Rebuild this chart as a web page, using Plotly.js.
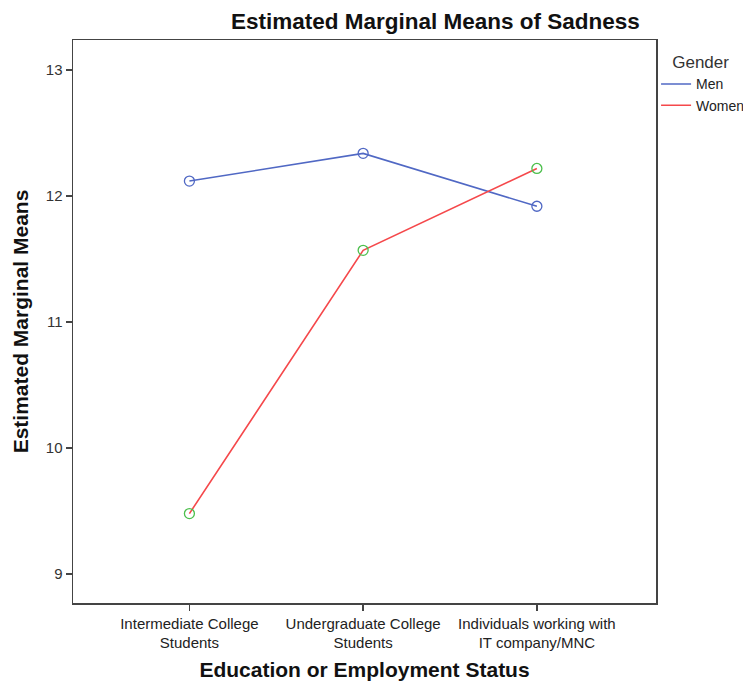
<!DOCTYPE html>
<html>
<head>
<script src="https://cdn.plot.ly/plotly-3.0.1.min.js"></script>
<style>html,body{margin:0;padding:0;background:#fff;}</style>
</head>
<body>
<div id="chart" style="width:743px;height:681px;"></div>
<script>
const categories = ["Intermediate College<br>Students", "Undergraduate College<br>Students", "Individuals working with<br>IT company/MNC"];
const menValues = [12.12, 12.34, 11.92];
const womenValues = [9.48, 11.57, 12.22];
const yTicks = [9, 10, 11, 12, 13];

const idx = categories.map((c, i) => i);
const traces = [
  {x: idx, y: menValues, name: "Men", type: "scatter", mode: "lines",
   line: {color: "#5068c4", width: 1.6}},
  {x: idx, y: womenValues, name: "Women", type: "scatter", mode: "lines",
   line: {color: "#f5484b", width: 1.6}},
  {x: idx, y: menValues, type: "scatter", mode: "markers", showlegend: false,
   marker: {symbol: "circle-open", size: 10, color: "#5068c4", line: {width: 1.3}}},
  {x: idx, y: womenValues, type: "scatter", mode: "markers", showlegend: false,
   marker: {symbol: "circle-open", size: 10, color: "#4cbf4c", line: {width: 1.3}}}
];

const layout = {
  width: 743, height: 681,
  margin: {l: 73, r: 83, t: 40, b: 78},
  paper_bgcolor: "#fff", plot_bgcolor: "#fff",
  font: {family: "Liberation Sans, Arial, sans-serif", color: "#222", size: 12},
  title: {text: "<b>Estimated Marginal Means of Sadness</b>", font: {size: 22.5, color: "#111"},
          x: 0.586, xref: "container", xanchor: "center", y: 0.969, yref: "container", yanchor: "middle"},
  xaxis: {
    range: [-0.67, 2.686], tickmode: "array", tickvals: idx, ticktext: categories,
    showgrid: false, zeroline: false, showline: true, mirror: true,
    linecolor: "#444", linewidth: 1.5, ticks: "outside", ticklen: 6, tickcolor: "#444", tickwidth: 1.5,
    tickfont: {size: 15, color: "#222"},
    title: {text: "<b>Education or Employment Status</b>", font: {size: 21, color: "#111"}, standoff: 12}
  },
  yaxis: {
    range: [8.77, 13.24], tickmode: "array", tickvals: yTicks,
    showgrid: false, zeroline: false, showline: true, mirror: true,
    linecolor: "#444", linewidth: 1.5, ticks: "outside", ticklen: 6, tickcolor: "#444", tickwidth: 1.5,
    tickfont: {size: 15, color: "#333"},
    title: {text: "<b>Estimated Marginal Means</b>", font: {size: 21, color: "#111"}, standoff: 11}
  },
  legend: {
    xref: "container", yref: "container",
    x: 0.883, xanchor: "left", y: 0.932, yanchor: "top",
    title: {text: "&nbsp;&nbsp;&nbsp;Gender", font: {size: 17, color: "#333"}},
    font: {size: 14, color: "#222"}, itemwidth: 30, tracegroupgap: 0,
    bgcolor: "rgba(0,0,0,0)"
  },
  showlegend: true
};

Plotly.newPlot("chart", traces, layout, {displayModeBar: false, staticPlot: true});
</script>
</body>
</html>
